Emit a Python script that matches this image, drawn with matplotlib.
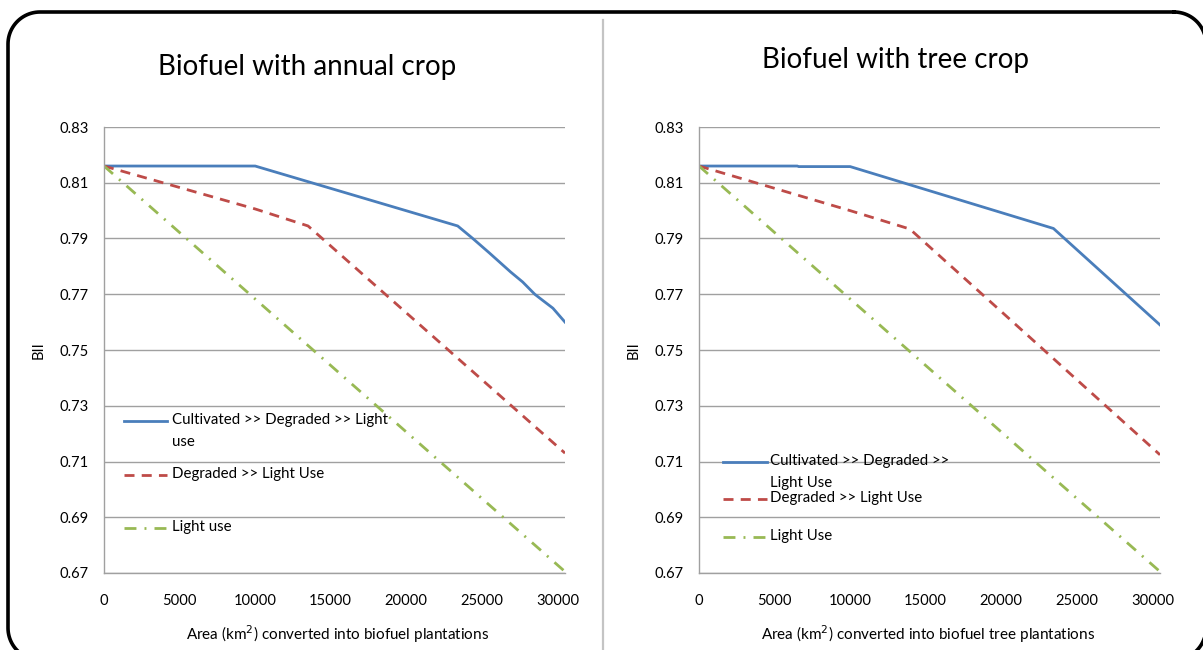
"""
Biodiversity intactness (BII) under biofuel expansion: annual crop vs tree crop.
"""

import numpy as np
import matplotlib
matplotlib.use("Agg")
import matplotlib.pyplot as plt

plt.rcParams["font.family"] = ["Lato", "DejaVu Sans"]

# --- annual crop scenario ---
annual_cult_x = [0, 10000, 23400, 24400, 25500, 26900, 27700, 28500, 29000, 29700, 30500]
annual_cult_y = [0.816, 0.816, 0.7945, 0.790, 0.7848, 0.778, 0.7744, 0.770, 0.7679, 0.765, 0.760]
annual_degr_x = [0, 10000, 13500, 30500]
annual_degr_y = [0.816, 0.8006, 0.7945, 0.713]
annual_light_x = [0, 30500]
annual_light_y = [0.816, 0.6705]

# --- tree crop scenario ---
tree_cult_x = [0, 6500, 6600, 10000, 23450, 30500]
tree_cult_y = [0.816, 0.816, 0.8158, 0.8158, 0.7936, 0.759]
tree_degr_x = [0, 10000, 13950, 30500]
tree_degr_y = [0.816, 0.800, 0.7934, 0.7124]
tree_light_x = [0, 30500]
tree_light_y = [0.816, 0.6705]

annual_labels = ["Cultivated >> Degraded >> Light\nuse", "Degraded >> Light Use", "Light use"]
tree_labels = ["Cultivated >> Degraded >>\nLight Use", "Degraded >> Light Use", "Light Use"]

titles = ["Biofuel with annual crop", "Biofuel with tree crop"]
xlabels = ["Area (km$^2$) converted into biofuel plantations",
           "Area (km$^2$) converted into biofuel tree plantations"]

x_ticks = [0, 5000, 10000, 15000, 20000, 25000, 30000]
y_ticks = [0.67, 0.69, 0.71, 0.73, 0.75, 0.77, 0.79, 0.81, 0.83]

BLUE = "#4a7ebb"
RED = "#be4b48"
GREEN = "#98b954"
GRID = "#a0a0a0"

styles = [
    dict(color=BLUE, lw=2.0, linestyle="-"),
    dict(color=RED, lw=2.0, dashes=(3.6, 2.6)),
    dict(color=GREEN, lw=2.0, dashes=(4.3, 2.9, 0.7, 2.9)),
]

W, H = 1203, 650
fig = plt.figure(figsize=(W / 100, H / 100), dpi=100)


def rounded_rect(x0, y0, x1, y1, r, n=24):
    """Closed outline of a rounded rectangle (y grows downward)."""
    pts = []
    corners = [(x1 - r, y0 + r, -90, 0), (x1 - r, y1 - r, 0, 90),
               (x0 + r, y1 - r, 90, 180), (x0 + r, y0 + r, 180, 270)]
    for cx, cy, a0, a1 in corners:
        t = np.radians(np.linspace(a0, a1, n))
        pts.extend(zip(cx + r * np.cos(t), cy + r * np.sin(t)))
    pts.append(pts[0])
    return np.array(pts)


# background layer in pixel units: rounded frame and centre divider
bg = fig.add_axes([0, 0, 1, 1], zorder=-1)
bg.set_xlim(0, W)
bg.set_ylim(H, 0)
bg.axis("off")
outline = rounded_rect(8, 12, 1206, 660, 32)
bg.plot(outline[:, 0], outline[:, 1], color="black", lw=2.6,
        solid_joinstyle="round")
bg.plot([603, 603], [20, H], color="#c4c4c4", lw=1.6)

panels = [
    dict(left=104 / W,
         series=[(annual_cult_x, annual_cult_y), (annual_degr_x, annual_degr_y),
                 (annual_light_x, annual_light_y)],
         labels=annual_labels,
         leg_x=(0.043, 0.137, 0.148), leg_y=[0.341, 0.220, 0.101],
         title_y=1 - 67 / H, title_x=307 / W, xlabel_x=338 / W),
    dict(left=699 / W,
         series=[(tree_cult_x, tree_cult_y), (tree_degr_x, tree_degr_y),
                 (tree_light_x, tree_light_y)],
         labels=tree_labels,
         leg_x=(0.052, 0.148, 0.154), leg_y=[0.249, 0.166, 0.081],
         title_y=1 - 60 / H, title_x=895 / W, xlabel_x=928 / W),
]

for i, p in enumerate(panels):
    ax = fig.add_axes([p["left"], 1 - 573 / H, 461 / W, 446 / H])
    ax.patch.set_alpha(0)
    for (xs, ys), st in zip(p["series"], styles):
        ax.plot(xs, ys, solid_joinstyle="round", **st)

    ax.set_xlim(0, 30500)
    ax.set_ylim(0.67, 0.83)
    ax.set_xticks(x_ticks)
    ax.set_xticklabels([str(t) for t in x_ticks])
    ax.set_yticks(y_ticks)
    ax.set_yticklabels([f"{t:.2f}" for t in y_ticks])
    ax.tick_params(axis="both", length=0, labelsize=10.6, colors="black")
    ax.tick_params(axis="x", pad=15)
    ax.tick_params(axis="y", pad=11)
    ax.yaxis.grid(True, color=GRID, lw=1.0)
    ax.set_axisbelow(True)
    for side in ("top", "right"):
        ax.spines[side].set_visible(False)
    for side in ("left", "bottom"):
        ax.spines[side].set_color(GRID)
        ax.spines[side].set_linewidth(1.0)

    ax.set_ylabel("BII", fontsize=10.6, labelpad=10)

    # hand-placed legend inside the plot area
    x0, x1, xt = p["leg_x"]
    for st, label, ly in zip(styles, p["labels"], p["leg_y"]):
        ax.plot([x0, x1], [ly, ly], transform=ax.transAxes, clip_on=False, **st)
        ax.text(xt, ly + 0.018, label, transform=ax.transAxes, fontsize=10.8,
                va="top", ha="left", linespacing=1.75)

    fig.text(p["title_x"], p["title_y"], titles[i], fontsize=20,
             ha="center", va="center")
    fig.text(p["xlabel_x"], 1 - 634 / H, xlabels[i], fontsize=11,
             ha="center", va="center")

fig.savefig("out.png", dpi=100)
